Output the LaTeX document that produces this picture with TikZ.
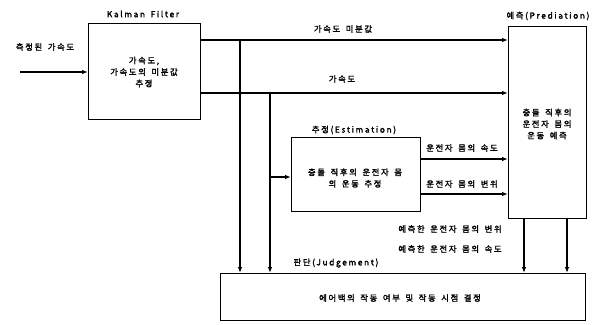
\documentclass[tikz,border=0pt]{standalone}
\usepackage{fontspec}
\setmainfont{Liberation Sans}
\newfontfamily\kr{Noto Sans CJK KR}[LetterSpace=20,WordSpace=1.6,FakeBold=2]
\usetikzlibrary{arrows.meta}
\begin{document}
\begin{tikzpicture}[x=1pt,y=-1pt,
  box/.style={draw,line width=1.1pt,inner sep=0pt,anchor=north west},
  lbl/.style={font=\kr\fontsize{8.3}{11.5}\selectfont,inner sep=1pt,align=center},
  arr/.style={line width=1.1pt,-{Latex[length=6pt,width=4.5pt]}}]
\useasboundingbox (0,0) rectangle (602,324);
% boxes
\node[box,minimum width=112pt,minimum height=96pt] (kf) at (88,23) {};
\node[box,minimum width=78pt,minimum height=192pt] (pr) at (508,26) {};
\node[box,minimum width=129pt,minimum height=74pt] (es) at (291,137) {};
\node[box,minimum width=365pt,minimum height=47pt] (ju) at (220,273) {};
% box texts
\node[lbl] (kft) at (144,72) {가속도,\\가속도의 미분값\\추정};
\node[lbl] (prt) at (547,124) {충돌 직후의\\운전자 몸의\\운동 예측};
\node[lbl] (est) at (355,178) {충돌 직후의 운전자 몸\\의 운동 추정};
\node[lbl] (jut) at (400,298) {에어백의 작동 여부 및 작동 시점 결정};
% titles
\node[lbl] (kfl) at (143,14) {Kalman Filter};
\node[lbl] (prl) at (548,16) {예측(Prediation)};
\node[lbl] (esl) at (354,130) {추정(Estimation)};
\node[lbl] (jul) at (336,263) {판단(Judgement)};
% input
\coordinate (in) at (20,72);
\node[lbl] (inl) at (45,47) {측정된 가속도};
\draw[arr] (in) -- (kf.west |- in);
% outputs of Kalman
\coordinate (a1) at (200,40);
\coordinate (a2) at (200,93);
\draw[arr] (kf.east |- a1) -- (pr.west |- a1);
\draw[arr] (kf.east |- a2) -- (pr.west |- a2);
\node[lbl] (a1l) at (343,29) {가속도 미분값};
\node[lbl] (a2l) at (342,79) {가속도};
% verticals
\coordinate (v1) at (240,40);
\coordinate (v2) at (270,93);
\draw[arr] (v1) -- (v1 |- ju.north);
\draw[arr] (v2) -- (v2 |- ju.north);
\coordinate (b) at (270,177);
\draw[arr] (b) -- (es.west |- b);
% estimation to prediction
\coordinate (e1) at (420,159);
\coordinate (e2) at (420,194);
\draw[arr] (e1) -- (pr.west |- e1);
\draw[arr] (e2) -- (pr.west |- e2);
\node[lbl] (e1l) at (462,148) {운전자 몸의 속도};
\node[lbl] (e2l) at (462,184) {운전자 몸의 변위};
% prediction to judgement
\coordinate (p1) at (524,218);
\coordinate (p2) at (567,218);
\draw[arr] (p1) -- (p1 |- ju.north);
\draw[arr] (p2) -- (p2 |- ju.north);
\node[lbl] (p1l) at (450,229) {예측한 운전자 몸의 변위};
\node[lbl] (p2l) at (450,249) {예측한 운전자 몸의 속도};
\end{tikzpicture}
\end{document}
